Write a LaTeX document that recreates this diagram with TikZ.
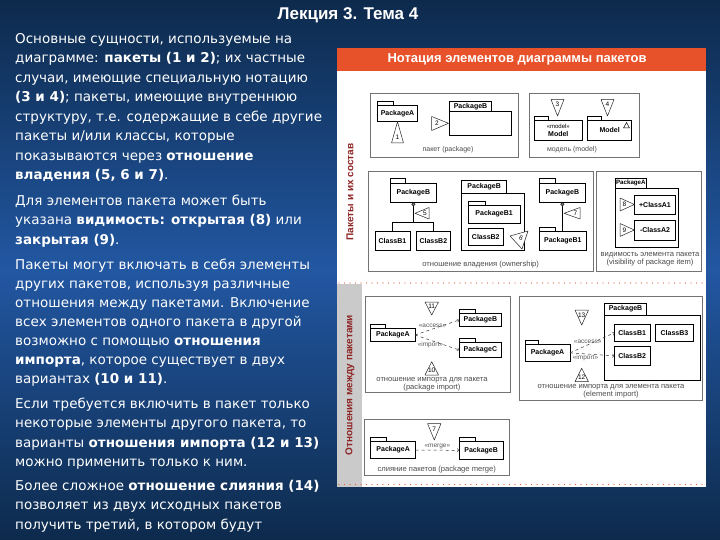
\documentclass[tikz,border=0pt]{standalone}
\usepackage{fontspec}
\usepackage{tikz}
\usetikzlibrary{positioning}

\newfontfamily\txtfont{DejaVu Sans}
\newfontfamily\dfont{Liberation Sans}

\definecolor{slidetop}{HTML}{0D2A4C}
\definecolor{slidemid}{HTML}{2257A2}
\definecolor{hdrorange}{HTML}{E8522A}
\definecolor{sidered}{HTML}{8E2424}
\definecolor{sidegrey}{HTML}{CACACA}
\definecolor{dotred}{HTML}{E25A3A}

\begin{document}
\begin{tikzpicture}[x=1pt, y=-1pt]
    \tikzstyle{box} = [draw=black!55, line width=0.5pt]
    \tikzstyle{pkg} = [shape=rectangle, draw=black, fill=white, line width=0.6pt, inner sep=0pt, outer sep=0pt, font=\dfont\bfseries\fontsize{7}{8}\selectfont]
    \tikzstyle{pkgtab} = [draw=black, fill=white, line width=0.6pt]
    \tikzstyle{capt} = [font=\dfont\fontsize{7.6}{8}\selectfont, text=black!70, align=center, inner sep=0pt]
    \tikzstyle{num} = [font=\dfont\fontsize{6.5}{7}\selectfont, inner sep=0pt]
    \tikzstyle{callout} = [draw=black!85, fill=white, line width=0.5pt, line join=round]
    \tikzstyle{dep} = [draw=black!80, dashed, line width=0.5pt, ->]
    \tikzstyle{stereo} = [font=\dfont\fontsize{6.5}{7}\selectfont, text=black!65, inner sep=1pt]
    \tikzstyle{own} = [shape=circle, draw=black, fill=black!55, inner sep=0pt, minimum size=3.5pt]
    \tikzstyle{para} = [anchor=north west, align=left, inner sep=0pt, text=white, font=\txtfont\fontsize{13.5}{19.5}\selectfont]
    \tikzstyle{side} = [rotate=90, text=sidered, font=\dfont\bfseries\fontsize{10}{10}\selectfont]
    \tikzstyle{dots} = [draw=dotred, line width=1.4pt, line cap=round, dash pattern=on 0pt off 5.5pt]

    \useasboundingbox (0, 0) rectangle (720, 540);
    % фон слайда
    \shade[top color=slidetop, bottom color=slidemid] (0, 0) rectangle (720, 270);
    \shade[top color=slidemid, bottom color=slidetop] (0, 270) rectangle (720, 540);

    \path (348, 15) node [name=title, text=white, font=\dfont\bfseries\fontsize{17}{17}\selectfont] {Лекция 3. Тема 4};

    % текст слева
    \path   (15, 29.4) node [para, name=p1] {\strut Основные сущности, используемые на\\
                диаграмме: \textbf{пакеты (1 и 2)}; их частные\\
                случаи, имеющие специальную нотацию\\
                \textbf{(3 и 4)}; пакеты, имеющие внутреннюю\\
                структуру, т.е. содержащие в себе другие\\
                пакеты и/или классы, которые\\
                показываются через \textbf{отношение}\\
                \textbf{владения (5, 6 и 7)}.}
            (15, 191.4) node [para, name=p2] {\strut Для элементов пакета может быть\\
                указана \textbf{видимость: открытая (8)} или\\
                \textbf{закрытая (9)}.}
            (15, 256.4) node [para, name=p3, font=\txtfont\fontsize{13.5}{19}\selectfont] {\strut Пакеты могут включать в себя элементы\\
                других пакетов, используя различные\\
                отношения между пакетами. Включение\\
                всех элементов одного пакета в другой\\
                возможно с помощью \textbf{отношения}\\
                \textbf{импорта}, которое существует в двух\\
                вариантах \textbf{(10 и 11)}.}
            (15, 394.4) node [para, name=p4] {\strut Если требуется включить в пакет только\\
                некоторые элементы другого пакета, то\\
                варианты \textbf{отношения импорта (12 и 13)}\\
                можно применить только к ним.}
            (15, 476.4) node [para, name=p5] {\strut Более сложное \textbf{отношение слияния (14)}\\
                позволяет из двух исходных пакетов\\
                получить третий, в котором будут};

    % рисунок справа
    \fill[white] (337, 48) rectangle (706, 487);
    \fill[hdrorange] (337, 48) rectangle (706, 71);
    \path (517, 59.5) node [name=hdr, text=white, font=\dfont\bfseries\fontsize{13}{13}\selectfont] {Нотация элементов диаграммы пакетов};
    \fill[sidegrey] (337, 284) rectangle (362, 487);
    \path   (350, 192) node [side, name=s1] {Пакеты и их состав}
            (350, 385) node [side, name=s2] {Отношения между пакетами};
    \draw[dots] (339, 283) -- (706, 283);
    \draw[dots] (339, 484.5) -- (706, 484.5);

    % пакет (package)
    \draw[box] (370, 93) rectangle (518, 157);
    \path   (397.5, 113.35) node [pkg, name=pa, minimum width=40.4pt, minimum height=16.7pt] {PackageA}
            (480.5, 123.35) node [pkg, name=pb, minimum width=62.4pt, minimum height=23.3pt] {};
    \node (pbtab) [pkg, minimum width=42.4pt, minimum height=10.7pt, above right=0pt and 0pt of pb.north west] {PackageB};
    \draw[pkgtab] (pa.north west) rectangle ++(16pt, 4pt);
    \draw[callout] (397.5, 121.7) -- (391.5, 143) -- (403.5, 143) -- cycle;
    \path (397.5, 137.5) node [num] {1};
    \draw[callout] (448.5, 123.3) -- (431.7, 116.5) -- (431.7, 130.5) -- cycle;
    \path (437, 123.3) node [num] {2};
    \path (448, 150) node [capt, font=\dfont\fontsize{7}{8}\selectfont] {пакет (package)};

    % модель (model)
    \draw[box] (529, 93) rectangle (639, 157);
    \draw[callout] (557.5, 116) -- (551, 99.5) -- (564, 99.5) -- cycle;
    \path (557.5, 104.5) node [num] {3};
    \draw[callout] (607.5, 116) -- (601, 99.5) -- (614, 99.5) -- cycle;
    \path (607.5, 104.5) node [num] {4};
    \path   (558.3, 130) node [pkg, name=m1, minimum width=48pt, minimum height=20pt, align=center] {{\mdseries\fontsize{6}{7}\selectfont «model»}\\Model}
            (609.7, 130) node [pkg, name=m2, minimum width=44pt, minimum height=20pt] {Model};
    \draw[pkgtab] (m1.north west) rectangle ++(14pt, 4pt);
    \draw[pkgtab] (m2.north west) rectangle ++(14pt, 4pt);
    \draw[line width=0.5pt] (623.5, 128) -- (626.5, 122.5) -- (629.5, 128) -- cycle;
    \path (572, 150) node [capt, font=\dfont\fontsize{7}{8}\selectfont] {модель (model)};

    % отношение владения (ownership)
    \draw[box] (368.3, 171.7) rectangle (593.3, 271);
    \path   (413.35, 192.8) node [pkg, name=ob, minimum width=46.7pt, minimum height=19pt] {PackageB}
            (392.5, 240.85) node [pkg, name=ocb1, minimum width=35pt, minimum height=18.3pt] {ClassB1}
            (433.35, 240.85) node [pkg, name=ocb2, minimum width=33.3pt, minimum height=18.3pt] {ClassB2};
    \draw[pkgtab] (ob.north west) rectangle ++(15.7pt, 5pt);
    \node (c5) [own, below=0pt of ob] {};
    \coordinate (j5) at (413.35, 222.3);
    \draw[line width=0.5pt] (c5) -- (j5) -| (ocb1.north);
    \draw[line width=0.5pt] (j5) -| (ocb2.north);
    \draw[callout] (415, 213.3) -- (429, 207.5) -- (429, 219) -- cycle;
    \path (425, 213.3) node [num] {5};

    \path   (493, 221.65) node [pkg, name=nb, minimum width=62.6pt, minimum height=56.7pt] {}
            (494.15, 214.15) node [pkg, name=nb1, minimum width=51.7pt, minimum height=18.3pt] {PackageB1}
            (485.8, 236.65) node [pkg, name=ncb2, minimum width=35pt, minimum height=16.7pt] {ClassB2};
    \node (nbtab) [pkg, minimum width=45pt, minimum height=13pt, above right=0pt and 0pt of nb.north west] {PackageB};
    \draw[pkgtab] (nb1.north west) rectangle ++(16.7pt, 4pt);
    \draw[callout] (510, 236) -- (528, 231) -- (522, 249) -- cycle;
    \path (521, 238.5) node [num, rotate=-20] {6};

    \path   (562.35, 192.8) node [pkg, name=rb, minimum width=46.7pt, minimum height=19pt] {PackageB}
            (562.85, 240.85) node [pkg, name=rb1, minimum width=47.7pt, minimum height=18.3pt] {PackageB1};
    \draw[pkgtab] (rb.north west) rectangle ++(16pt, 5pt);
    \draw[pkgtab] (rb1.north west) rectangle ++(16pt, 4pt);
    \node (c7) [own, below=0pt of rb] {};
    \draw[line width=0.5pt] (c7) -- (c7 |- rb1.north);
    \draw[callout] (564, 213.3) -- (580, 207.5) -- (580, 219) -- cycle;
    \path (575.5, 213.3) node [num] {7};
    \path (480.7, 264.3) node [capt] {отношение владения (ownership)};

    % видимость
    \draw[box] (596.7, 171.7) rectangle (701.7, 271);
    \path   (646.65, 218) node [pkg, name=va, minimum width=63.3pt, minimum height=59.4pt] {}
            (655, 205) node [pkg, name=vc1, minimum width=41.4pt, minimum height=18.6pt] {+ClassA1}
            (655, 230) node [pkg, name=vc2, minimum width=41.4pt, minimum height=20pt] {-ClassA2};
    \node (vatab) [pkg, minimum width=31.7pt, minimum height=10pt, above right=0pt and 0pt of va.north west, font=\dfont\bfseries\fontsize{6.2}{7}\selectfont] {PackageA};
    \draw[callout] (634.3, 204.5) -- (620, 198) -- (620, 211) -- cycle;
    \path (624.5, 204.5) node [num] {8};
    \draw[callout] (634.3, 230) -- (620, 223.5) -- (620, 236.5) -- cycle;
    \path (624.5, 230) node [num] {9};
    \path (650, 259) node [capt] {видимость элемента пакета\\(visibility of package item)};

    % импорт пакета
    \draw[box] (365, 296.7) rectangle (510, 392);
    \path   (392.85, 335) node [pkg, name=ia, minimum width=44.3pt, minimum height=13.4pt] {PackageA}
            (480.35, 320) node [pkg, name=ib, minimum width=42.7pt, minimum height=13.4pt] {PackageB}
            (480.35, 350) node [pkg, name=ic, minimum width=42.7pt, minimum height=14.6pt] {PackageC};
    \draw[pkgtab] (ia.north west) rectangle ++(14.3pt, 4.3pt);
    \draw[pkgtab] (ib.north west) rectangle ++(16pt, 4pt);
    \draw[pkgtab] (ic.north west) rectangle ++(16pt, 4.3pt);
    \draw[dep] (ia.east) -- node [stereo, pos=0.4, above] {«access»} (ib.west);
    \draw[dep] (ia.east) -- node [stereo, pos=0.35, below] {«import»} (ic.west);
    \draw[callout] (431.7, 315) -- (425, 302) -- (438.5, 302) -- cycle;
    \path (431.7, 306.5) node [num] {11};
    \draw[callout] (431.7, 361.7) -- (425, 375) -- (438.5, 375) -- cycle;
    \path (431.7, 370.5) node [num] {10};
    \path (432, 384.5) node [capt] {отношение импорта для пакета\\(package import)};

    % импорт элемента
    \draw[box] (519.3, 296.7) rectangle (702.7, 400.7);
    \path   (547.5, 352.85) node [pkg, name=ea, minimum width=45pt, minimum height=17.7pt] {PackageA}
            (652.15, 347.5) node [pkg, name=eb, minimum width=95.7pt, minimum height=65pt] {}
            (632.15, 332.85) node [pkg, name=eb1, minimum width=35.7pt, minimum height=17.7pt] {ClassB1}
            (674.5, 332.85) node [pkg, name=eb3, minimum width=37.6pt, minimum height=17.7pt] {ClassB3}
            (632.15, 355.85) node [pkg, name=eb2, minimum width=35.7pt, minimum height=18.3pt] {ClassB2};
    \node (ebtab) [pkg, minimum width=42.4pt, minimum height=11.7pt, above right=0pt and 0pt of eb.north west] {PackageB};
    \draw[pkgtab] (ea.north west) rectangle ++(13.3pt, 4pt);
    \draw[dep] (ea.east) -- node [stereo, pos=0.4, above] {«access»} (eb1.west);
    \draw[dep] (ea.east) -- node [stereo, pos=0.35, below] {«import»} (eb2.west);
    \draw[callout] (581.7, 325) -- (575, 310) -- (588.5, 310) -- cycle;
    \path (581.7, 315) node [num] {13};
    \draw[callout] (581.7, 368.3) -- (575, 381.7) -- (588.5, 381.7) -- cycle;
    \path (581.7, 377) node [num] {12};
    \path (611, 391.5) node [capt] {отношение импорта для элемента пакета\\(element import)};

    % слияние
    \draw[box] (364.3, 419) rectangle (509, 475.7);
    \path   (393.2, 450) node [pkg, name=ma, minimum width=45pt, minimum height=16.6pt] {PackageA}
            (481.15, 450.35) node [pkg, name=mb, minimum width=44.3pt, minimum height=17.3pt] {PackageB};
    \draw[pkgtab] (ma.north west) rectangle ++(16pt, 4.4pt);
    \draw[pkgtab] (mb.north west) rectangle ++(16pt, 4.4pt);
    \draw[dep] (ma.east) -- node [stereo, above] {«merge»} (mb.west);
    \draw[callout] (434.3, 440) -- (427.5, 423.5) -- (441, 423.5) -- cycle;
    \path (434.3, 429) node [num] {7};
    \path (436.7, 470) node [capt] {слияние пакетов (package merge)};
\end{tikzpicture}
\end{document}
